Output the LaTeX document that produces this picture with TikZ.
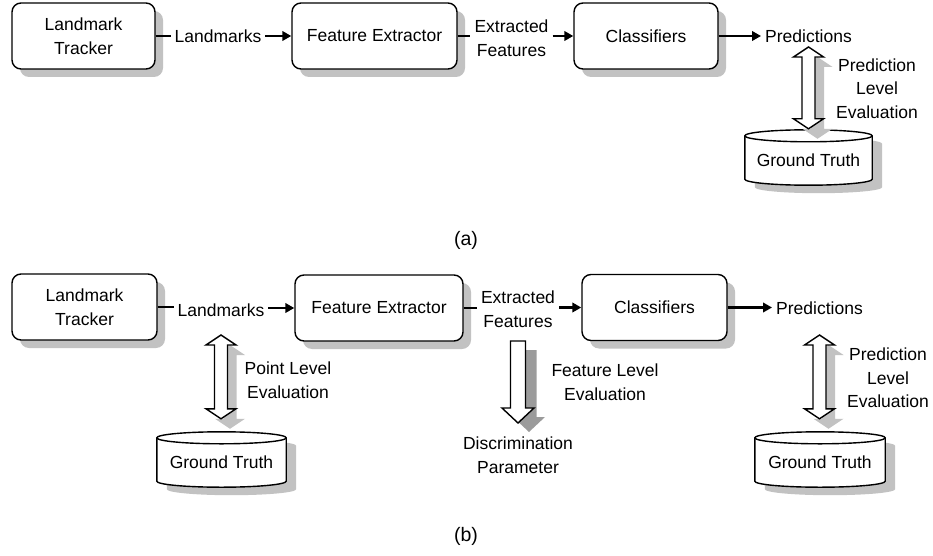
\documentclass[tikz,border=0pt]{standalone}
\usepackage{fontspec}
\setmainfont{Liberation Sans}
\usetikzlibrary{arrows.meta,calc,shadows}
\pgfdeclarelayer{background}
\pgfsetlayers{background,main}
\definecolor{shadowc}{RGB}{194,194,194}
\definecolor{shadowd}{RGB}{155,155,155}

% hollow double-headed arrow: centre x, top tip y, bottom tip y
\newcommand\dblpoly[3]{(#1,#2) -- (#1+15pt,#2-10pt) -- (#1+6.5pt,#2-10pt) -- (#1+6.5pt,#3+10pt) -- (#1+15pt,#3+10pt) -- (#1,#3) -- (#1-15pt,#3+10pt) -- (#1-6.5pt,#3+10pt) -- (#1-6.5pt,#2-10pt) -- (#1-15pt,#2-10pt) -- cycle}
% hollow single arrow pointing down: centre x, top y, tip y
\newcommand\sglpoly[3]{(#1-7.5pt,#2) -- (#1+7.5pt,#2) -- (#1+7.5pt,#3+15pt) -- (#1+16pt,#3+15pt) -- (#1,#3) -- (#1-16pt,#3+15pt) -- (#1-7.5pt,#3+15pt) -- cycle}

\newcommand\evalarrow[2]{%
  \coordinate (ea-t) at (#1);
  \coordinate (ea-b) at (#2);
  \fill[shadowc] let \p1=(ea-t), \p2=(ea-b) in \dblpoly{\x1+9pt}{\y1-10pt}{\y2-10pt};
  \filldraw[hollow] let \p1=(ea-t), \p2=(ea-b) in \dblpoly{\x1}{\y1}{\y2};
}
\newcommand\featarrow[2]{%
  \coordinate (fa-t) at (#1);
  \coordinate (fa-b) at (#2);
  \fill[shadowd] let \p1=(fa-t), \p2=(fa-b) in \sglpoly{\x1+11pt}{\y1-9pt}{\y2-9pt};
  \filldraw[hollow] let \p1=(fa-t), \p2=(fa-b) in \sglpoly{\x1}{\y1}{\y2};
}
% database drum around a node: north = centre of top ellipse, south = lowest point
\newcommand\drum[1]{%
  \begin{pgfonlayer}{background}
  \fill[shadowc] let \p1=(#1.north west), \p2=(#1.south east), \n1={(\x2-\x1)/2} in
    (\x1+10pt,\y1-8pt) -- (\x1+10pt,\y2-2pt)
    arc[start angle=180,end angle=360,x radius=\n1,y radius=6pt]
    -- (\x2+10pt,\y1-8pt)
    arc[start angle=0,end angle=180,x radius=\n1,y radius=6pt] -- cycle;
  \filldraw[fill=white,line width=1.4pt] let \p1=(#1.north west), \p2=(#1.south east), \n1={(\x2-\x1)/2} in
    (\x1,\y1) -- (\x1,\y2+6pt)
    arc[start angle=180,end angle=360,x radius=\n1,y radius=6pt]
    -- (\x2,\y1)
    arc[start angle=0,end angle=180,x radius=\n1,y radius=6pt] -- cycle;
  \draw[line width=1.4pt] let \p1=(#1.north west), \p2=(#1.south east), \n1={(\x2-\x1)/2} in
    (\x1,\y1) arc[start angle=180,end angle=360,x radius=\n1,y radius=6pt];
  \end{pgfonlayer}
}

\begin{document}
\begin{tikzpicture}[x=1pt,y=1pt,
  every node/.style={font=\fontsize{17.5}{23.5}\selectfont},
  block/.style={draw, line width=1.4pt, rounded corners=9pt, fill=white, align=center,
    minimum height=66pt,
    drop shadow={shadow xshift=8pt, shadow yshift=-8pt, fill=shadowc, opacity=1}},
  lbl/.style={inner xsep=4pt, inner ysep=2pt, align=center},
  caption/.style={font=\fontsize{19.5}{24}\selectfont},
  link/.style={line width=2.2pt},
  flow/.style={line width=2.2pt, -{Triangle[length=9pt,width=9.5pt]}},
  drumbody/.style={minimum height=49pt, inner sep=0pt},
  hollow/.style={draw, line width=1.4pt, fill=white, line join=miter},
]
\useasboundingbox (0,0) rectangle (933,-556);

% ---------- (a) ----------
\node[block, minimum width=143pt] (lt1) at (83.5,-36) {Landmark\\Tracker};
\node[block, minimum width=165pt] (fe1) at (374.5,-36) {Feature Extractor};
\node[block, minimum width=144pt] (cl1) at (646,-36) {Classifiers};
\node[lbl] (lm1) at (218,-36) {Landmarks};
\node[lbl] (ef1) at (511.5,-38) {Extracted\\Features};
\node[lbl] (pr1) at (808.5,-36) {Predictions};
\node[lbl] (ple1) at (877,-88.5) {Prediction\\Level\\Evaluation};
\node[drumbody, minimum width=127pt] (gt1) at (808.5,-160.5) {Ground Truth};
\drum{gt1}

\draw[link] (lt1.east) -- (lt1.east -| lm1.west);
\draw[flow] (lm1.east) -- (fe1.west);
\draw[link] (fe1.east) -- (fe1.east -| ef1.west);
\draw[flow] (ef1.east |- cl1.west) -- (cl1.west);
\draw[flow] (cl1.east) -- (cl1.east -| pr1.west);
\evalarrow{$(pr1.center)+(0,-11)$}{$(gt1.north)+(0,7)$}

\node[caption] (cap-a) at (466,-240) {(a)};

% ---------- (b) ----------
\node[block, minimum width=145pt] (lt2) at (84.5,-307) {Landmark\\Tracker};
\node[block, minimum width=168pt] (fe2) at (379,-308) {Feature Extractor};
\node[block, minimum width=145pt] (cl2) at (654.5,-307.5) {Classifiers};
\node[lbl] (lm2) at (221,-310) {Landmarks};
\node[lbl] (ef2) at (518,-309) {Extracted\\Features};
\node[lbl] (pr2) at (819.5,-308) {Predictions};
\node[lbl] (plev) at (288,-380) {Point Level\\Evaluation};
\node[lbl] (flev) at (605,-382) {Feature Level\\Evaluation};
\node[lbl] (dp) at (518,-455) {Discrimination\\Parameter};
\node[lbl] (ple2) at (888,-378) {Prediction\\Level\\Evaluation};
\node[drumbody, minimum width=129pt] (gt2) at (221.5,-462.5) {Ground Truth};
\node[drumbody, minimum width=130pt] (gt3) at (820,-462.5) {Ground Truth};
\drum{gt2}
\drum{gt3}

\draw[link] (lt2.east) -- (lt2.east -| lm2.west);
\draw[flow] (lm2.east |- fe2.west) -- (fe2.west);
\draw[link] (fe2.east) -- (fe2.east -| ef2.west);
\draw[flow] (ef2.east |- cl2.west) -- (cl2.west);
\draw[flow] (cl2.east) -- (cl2.east -| pr2.west);
\evalarrow{$(lm2.center)+(0,-25)$}{$(gt2.north)+(0,19)$}
\evalarrow{$(pr2.center)+(0,-27)$}{$(gt3.north)+(0,19)$}
\featarrow{$(ef2.center)+(0,-32)$}{$(dp.center)+(0,32)$}

\node[caption] (cap-b) at (466,-536) {(b)};
\end{tikzpicture}
\end{document}
